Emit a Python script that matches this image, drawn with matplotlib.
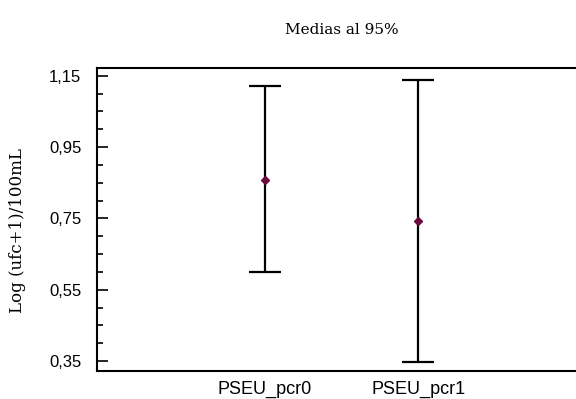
import matplotlib.pyplot as plt
from matplotlib.ticker import MultipleLocator, FuncFormatter

groups = ['PSEU_pcr0', 'PSEU_pcr1']
means = [0.859, 0.743]
upper = [1.122, 1.139]
lower = [0.600, 0.347]

x = [0, 1]
err_lo = [m - l for m, l in zip(means, lower)]
err_hi = [u - m for m, u in zip(means, upper)]

fig = plt.figure(figsize=(5.76, 3.99), dpi=100)
ax = fig.add_axes([0.168, 0.0702, 0.832, 0.7594])

ax.errorbar(x, means, yerr=[err_lo, err_hi], fmt='D', color='black',
            ecolor='black', elinewidth=1.6, capsize=11.5, capthick=1.6,
            markersize=4.5, markerfacecolor='#6b0a3c', markeredgecolor='#6b0a3c')

ax.set_xlim(-1.098, 1.03 + 1)
ax.set_ylim(0.322, 1.172)
ax.set_xticks(x)
ax.set_xticklabels(groups, fontsize=13, family='Liberation Sans')
ax.yaxis.set_minor_locator(MultipleLocator(0.05))
ax.set_yticks([0.35, 0.55, 0.75, 0.95, 1.15])
ax.yaxis.set_major_formatter(FuncFormatter(lambda v, p: ('%.2f' % v).replace('.', ',')))
for lab in ax.get_yticklabels():
    lab.set_family('Liberation Sans')
    lab.set_fontsize(12)

ax.tick_params(axis='y', which='major', direction='in', length=8, width=1.2, pad=11)
ax.tick_params(axis='y', which='minor', direction='in', length=4, width=1.2)
ax.tick_params(axis='x', length=0, pad=7)
ax.spines['right'].set_visible(False)
for s in ['left', 'top', 'bottom']:
    ax.spines[s].set_linewidth(1.5)

ax.set_ylabel('Log (ufc+1)/100mL', family='DejaVu Serif', fontsize=12)
ax.yaxis.set_label_coords(-0.148, 0.465)
fig.text(342 / 576, 1 - 30 / 399, 'Medias al 95%', family='DejaVu Serif',
         fontsize=11, ha='center', va='center')

fig.savefig('out.png', dpi=100)
